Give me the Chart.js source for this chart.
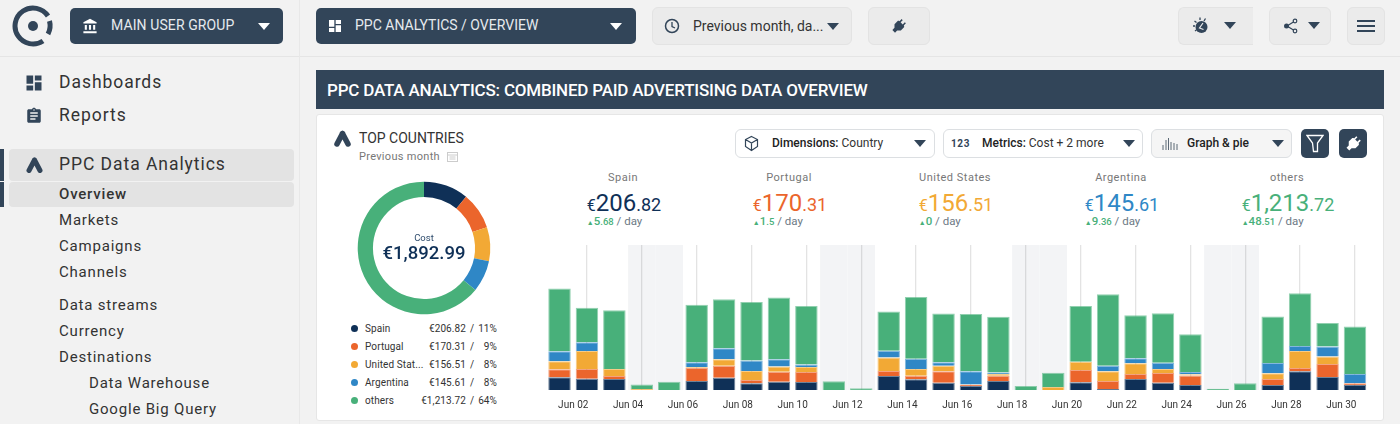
<!DOCTYPE html>
<html>
<head>
<meta charset="utf-8">
<title>PPC Data Analytics</title>
<script src="https://cdn.jsdelivr.net/npm/chart.js@4"></script>
<style>
  * { box-sizing: border-box; }
  html, body { margin: 0; height: 424px; overflow: hidden; }
  body { width: 1400px; background: #f2f2f2; font-family: Roboto, sans-serif; color: #333; position: relative; }
  .abs { position: absolute; white-space: nowrap; }
  .rule-h { position: absolute; left: 0; top: 56px; width: 1400px; height: 1px; background: #e5e5e5; }
  .rule-v { position: absolute; left: 299px; top: 0; width: 1px; height: 424px; background: #e8e8e8; }
  .dark { background: #324559; border-radius: 5px; color: #e6eaee; }
  .light { background: #ebebeb; border: 1px solid #e3e3e3; border-radius: 6px; }
  .btn { position: absolute; height: 36px; top: 8px; }
  .caret { position: absolute; width: 0; height: 0; border-left: 6px solid transparent; border-right: 6px solid transparent; border-top: 7px solid #324559; }
  .caret.white { border-top-color: #fff; }
  .nav { position: absolute; left: 59px; font-size: 15px; letter-spacing: .8px; line-height: 20px; color: #333; white-space: nowrap; }
  .nav.big { font-size: 17.5px; letter-spacing: .95px; }
  .hl { position: absolute; background: #e3e3e3; border-radius: 4px; left: 9px; width: 285px; }
  .mark { position: absolute; left: 0; width: 4px; background: #324559; }
  .card { position: absolute; left: 316px; top: 114px; width: 1068px; height: 307px; background: #fff; border: 1px solid #e6e6e6; border-radius: 3px; }
  .select { position: absolute; top: 129px; height: 29px; background: #fff; border: 1px solid #dcdfe2; border-radius: 6px; }
  .select-text { position: absolute; font-size: 12px; line-height: 29px; top: 129px; white-space: nowrap; color: #333; }
  .select-text b { font-weight: 500; color: #222; }
  .kpi { position: absolute; top: 171px; width: 166px; text-align: center; }
  .kpi .name { font-size: 11px; letter-spacing: .5px; color: #777; line-height: 14px; }
  .kpi .box { display: inline-block; text-align: left; margin-top: 5px; margin-left: 2px; }
  .kpi .val { line-height: 27px; height: 27px; white-space: nowrap; }
  .kpi .cur { font-size: 16px; }
  .kpi .int { font-size: 24px; }
  .kpi .dec { font-size: 18px; }
  .kpi .day { font-size: 11.5px; line-height: 12px; color: #6d7985; white-space: nowrap; margin-top: -2px; }
  .kpi .day span { color: #48b07a; font-weight: 500; }
  .kpi .day small { font-size: 9.5px; }
  .kpi .day i { font-style: normal; font-size: 7px; color: #48b07a; }
  .leg { position: absolute; font-size: 10px; line-height: 12px; white-space: nowrap; color: #333; letter-spacing: .1px; }
  .dot { position: absolute; width: 7px; height: 7px; border-radius: 50%; }
  canvas { position: absolute; }
</style>
</head>
<body>
<div class="rule-h"></div>
<div class="rule-v"></div>

<!-- logo -->
<svg class="abs" style="left:12px;top:5px" width="42" height="42" viewBox="0 0 42 42">
  <path d="M36 11 A18 18 0 1 0 31 36" fill="none" stroke="#324559" stroke-width="5"/>
  <path d="M37.5 16 A18 18 0 0 1 36 29" fill="none" stroke="#324559" stroke-width="5"/>
  <circle cx="21" cy="21" r="5" fill="#324559"/>
</svg>

<!-- top bar -->
<div class="btn dark" style="left:70px;width:213px"></div>
<svg class="abs" style="left:82px;top:17px" width="16" height="18" viewBox="0 0 23 23"><path fill="#fff" d="M4 10v7h3v-7H4zm6 0v7h3v-7h-3zM2 22h19v-3H2v3zm14-12v7h3v-7h-3zm-4.500-9L2 6v2h19V6l-9.500-5z"/></svg>
<div class="abs" style="left:111px;top:16px;font-size:14px;line-height:18px;color:#e6eaee;letter-spacing:.1px">MAIN USER GROUP</div>
<div class="caret white" style="left:258px;top:23px"></div>

<div class="btn dark" style="left:316px;width:320px"></div>
<svg class="abs" style="left:327px;top:18px" width="16" height="16" viewBox="0 0 24 24"><path fill="#fff" d="M3 13h8V3H3v10zm0 8h8v-6H3v6zm10 0h8V11h-8v10zm0-18v6h8V3h-8z"/></svg>
<div class="abs" style="left:355px;top:16px;font-size:14px;line-height:18px;color:#e6eaee">PPC ANALYTICS / OVERVIEW</div>
<div class="caret white" style="left:610px;top:23px"></div>

<div class="btn light" style="left:652px;width:200px;top:7px;height:38px"></div>
<svg class="abs" style="left:664px;top:18px" width="16" height="16" viewBox="0 0 16 16"><circle cx="8" cy="8" r="6.500" fill="none" stroke="#324559" stroke-width="1.500"/><path d="M8 4v4.500l3 1.500" fill="none" stroke="#324559" stroke-width="1.300"/></svg>
<div class="abs" style="left:693px;top:17px;font-size:14px;line-height:18px;color:#333">Previous month, da...</div>
<div class="caret" style="left:827px;top:23px"></div>

<div class="btn light" style="left:868px;width:62px;top:7px;height:38px"></div>
<svg class="abs" style="left:890px;top:17px" width="18" height="18" viewBox="0 0 24 24"><path fill="#324559" transform="rotate(45 12 12)" d="M16 7V3h-2v4h-4V3H8v4C7 7 6 8 6 9v5.500L9.500 18v4h5v-4l3.500-3.500V9c0-1-1-2-2-2z"/></svg>

<div class="btn light" style="left:1178px;width:75px;top:7px;height:38px;border-right:none;border-radius:6px 0 0 6px"></div>
<svg class="abs" style="left:1192px;top:17px" width="18" height="18" viewBox="0 0 18 18"><circle cx="9.500" cy="10" r="6" fill="#324559"/><path d="M1 9h2M2.500 4l2 1.500M8 .5v2.500M13.500 1.500l-1.500 2.500M3 14l2-1.500" stroke="#324559" stroke-width="1.300"/><path d="M11 6L7.500 11l4 1.500" fill="none" stroke="#ebebeb" stroke-width="1.200"/></svg>
<div class="caret" style="left:1224px;top:22px"></div>

<div class="btn light" style="left:1269px;width:62px;top:7px;height:38px"></div>
<svg class="abs" style="left:1283px;top:18px" width="16" height="16" viewBox="0 0 16 16"><path d="M4 8l8-5M4 8l8 5" stroke="#324559" stroke-width="1.200"/><circle cx="3.500" cy="8" r="2.500" fill="#324559"/><circle cx="12" cy="3" r="1.800" fill="#ebebeb" stroke="#324559" stroke-width="1.200"/><circle cx="12" cy="13" r="1.800" fill="#ebebeb" stroke="#324559" stroke-width="1.200"/></svg>
<div class="caret" style="left:1308px;top:22px"></div>

<div class="btn light" style="left:1347px;width:38px;top:7px;height:38px"></div>
<svg class="abs" style="left:1357px;top:19px" width="18" height="14" viewBox="0 0 18 14"><path d="M0 2h18M0 7h18M0 12h18" stroke="#324559" stroke-width="2"/></svg>

<!-- sidebar -->
<div class="hl" style="top:149px;height:32px"></div>
<div class="hl" style="top:182px;height:25px"></div>
<div class="mark" style="top:149px;height:32px"></div>
<div class="mark" style="top:182px;height:25px"></div>
<svg class="abs" style="left:24px;top:73px" width="20" height="20" viewBox="0 0 24 24"><path fill="#324559" d="M3 13h8V3H3v10zm0 8h8v-6H3v6zm10 0h8V11h-8v10zm0-18v6h8V3h-8z"/></svg>
<svg class="abs" style="left:25px;top:107px" width="18" height="18" viewBox="0 0 24 24"><path fill="#324559" d="M19 3h-4.180C14.400 1.840 13.300 1 12 1c-1.300 0-2.400.84-2.820 2H5c-1.100 0-2 .9-2 2v14c0 1.100.9 2 2 2h14c1.100 0 2-.9 2-2V5c0-1.100-.9-2-2-2zm-7 0c.55 0 1 .45 1 1s-.45 1-1 1-1-.45-1-1 .45-1 1-1zm2 14H7v-2h7v2zm3-4H7v-2h10v2zm0-4H7V7h10v2z"/></svg>
<svg class="abs" style="left:26px;top:157px" width="17" height="16" viewBox="0 0 17 16"><path d="M3 13.500L8.500 3M14 13.500L8.500 3" stroke="#324559" stroke-width="5" stroke-linecap="round"/></svg>
<div class="nav big" style="top:72px">Dashboards</div>
<div class="nav big" style="top:105px">Reports</div>
<div class="nav big" style="top:154px">PPC Data Analytics</div>
<div class="nav" style="top:184px;font-weight:500">Overview</div>
<div class="nav" style="top:210px">Markets</div>
<div class="nav" style="top:236px">Campaigns</div>
<div class="nav" style="top:262px">Channels</div>
<div class="nav" style="top:295px">Data streams</div>
<div class="nav" style="top:321px">Currency</div>
<div class="nav" style="top:347px">Destinations</div>
<div class="nav" style="top:373px;left:89px">Data Warehouse</div>
<div class="nav" style="top:399px;left:89px">Google Big Query</div>

<!-- banner -->
<div class="abs" style="left:316px;top:70px;width:1068px;height:39px;background:#324559"></div>
<div class="abs" style="left:327px;top:80px;font-size:17px;line-height:20px;font-weight:500;color:#fff;letter-spacing:-.2px">PPC DATA ANALYTICS: COMBINED PAID ADVERTISING DATA OVERVIEW</div>

<!-- card -->
<div class="card"></div>
<svg class="abs" style="left:333px;top:129px" width="19" height="19" viewBox="0 0 19 19"><path d="M4 15L9.500 4.500M15 15L9.500 4.500" stroke="#324559" stroke-width="5.500" stroke-linecap="round"/></svg>
<div class="abs" style="left:359px;top:130px;font-size:14px;line-height:17px;color:#333">TOP COUNTRIES</div>
<div class="abs" style="left:359px;top:150px;font-size:11px;line-height:13px;color:#777;letter-spacing:.3px">Previous month</div>
<svg class="abs" style="left:447px;top:151px" width="11" height="11" viewBox="0 0 11 11"><rect x=".5" y="1.500" width="10" height="9" fill="none" stroke="#ccc"/><path d="M.5 4h10M2.500 6h6M2.500 8h6" stroke="#ccc"/></svg>

<div class="select" style="left:735px;width:200px"></div>
<svg class="abs" style="left:743px;top:135px" width="17" height="17" viewBox="0 0 17 17"><path d="M8.500 1.500l6 3v7l-6 4-6-4v-7zM2.500 4.500l6 3.500 6-3.500M8.500 8v7.500" fill="none" stroke="#324559" stroke-width="1.200"/></svg>
<div class="select-text" style="left:772px"><b>Dimensions:</b> Country</div>
<div class="caret" style="left:914px;top:140px"></div>

<div class="select" style="left:943px;width:200px"></div>
<div class="select-text" style="left:951px;font-size:10px;font-weight:700;color:#324559;letter-spacing:.6px">123</div>
<div class="select-text" style="left:982px"><b>Metrics:</b> Cost + 2 more</div>
<div class="caret" style="left:1123px;top:140px"></div>

<div class="select" style="left:1151px;width:141px;background:#f5f5f5"></div>
<svg class="abs" style="left:1162px;top:136px" width="16" height="15" viewBox="0 0 16 15"><path d="M1 14V9M4 14V4M6.500 14V2M9 14V6M12 14V7M15 14V8" stroke="#5b6875" stroke-width="1"/></svg>
<div class="select-text" style="left:1187px"><b>Graph &amp; pie</b></div>
<div class="caret" style="left:1272px;top:140px"></div>

<div class="abs dark" style="left:1301px;top:129px;width:28px;height:29px"></div>
<svg class="abs" style="left:1306px;top:134px" width="18" height="19" viewBox="0 0 18 19"><path d="M1 1.500h16L11.500 9v8.500H7.500L6.500 9z" fill="none" stroke="#fff" stroke-width="1.300"/></svg>
<div class="abs dark" style="left:1339px;top:129px;width:28px;height:29px"></div>
<svg class="abs" style="left:1344px;top:134px" width="19" height="19" viewBox="0 0 24 24"><path fill="#fff" transform="rotate(45 12 12)" d="M16 7V3h-2v4h-4V3H8v4C7 7 6 8 6 9v5.500L9.500 18v4h5v-4l3.500-3.500V9c0-1-1-2-2-2z"/></svg>

<div id="kpis"></div>
<div id="legend"></div>

<canvas id="pieChart" width="140" height="140" style="left:354px;top:178px"></canvas>
<div class="abs" style="left:354px;width:140px;top:232px;text-align:center;font-size:9.500px;line-height:11px;color:#2c4a6b">Cost</div>
<div class="abs" style="left:354px;width:140px;top:241px;text-align:center;font-size:18.5px;line-height:24px;font-weight:500;color:#0f3057" id="totalCost"></div>

<canvas id="usageChart" width="840" height="175" style="left:540px;top:240px"></canvas>

<script>
/* ----- dados ----- */
const days = [
  'Jun 01', 'Jun 02', 'Jun 03', 'Jun 04', 'Jun 05', 'Jun 06', 'Jun 07', 'Jun 08', 'Jun 09', 'Jun 10',
  'Jun 11', 'Jun 12', 'Jun 13', 'Jun 14', 'Jun 15', 'Jun 16', 'Jun 17', 'Jun 18', 'Jun 19', 'Jun 20',
  'Jun 21', 'Jun 22', 'Jun 23', 'Jun 24', 'Jun 25', 'Jun 26', 'Jun 27', 'Jun 28', 'Jun 29', 'Jun 30'
];
const weekendDays = ['Jun 04', 'Jun 05', 'Jun 11', 'Jun 12', 'Jun 18', 'Jun 19', 'Jun 25', 'Jun 26'];

const spain = [13.1, 11.7, 11.4, 0, 0, 9.3, 12.8, 6.9, 8.6, 8.3, 0, 0, 14.5, 11.0, 7.6, 4.1, 9.3, 0, 0, 7.9, 1.0, 11.4, 7.6, 5.2, 0, 0, 5.2, 19.3, 13.5, 5.2];
const portugal = [8.3, 10.0, 3.1, 0, 0, 13.8, 12.4, 3.5, 10.4, 10.4, 0, 0, 5.2, 3.8, 11.7, 1.4, 5.5, 0, 0, 12.8, 8.3, 5.2, 10.0, 9.7, 0, 0, 6.2, 3.5, 13.5, 1.7];
const unitedStates = [8.3, 18.6, 7.2, 1.0, 0, 0.7, 6.6, 9.3, 5.2, 5.2, 0, 0, 13.8, 6.9, 5.9, 0.3, 1.7, 0, 3.1, 8.6, 10.0, 11.0, 4.1, 1.4, 0, 0, 5.9, 17.6, 7.6, 0];
const argentina = [10.4, 9.0, 0, 0, 0, 4.8, 11.4, 10.7, 7.6, 2.4, 0, 0, 7.2, 10.7, 3.5, 13.5, 1.7, 0, 0, 0, 5.9, 5.2, 6.6, 2.4, 0, 0, 10.7, 5.2, 10.4, 9.7];
const others = [64.9, 35.9, 60.7, 4.8, 8.6, 59.7, 50.7, 60.7, 63.8, 60.7, 9.0, 1.7, 40.4, 63.8, 50.4, 59.3, 57.6, 4.1, 14.8, 57.6, 73.8, 44.5, 51.1, 39.0, 1.4, 6.9, 48.0, 54.5, 24.2, 49.0];

const countries = ['Spain', 'Portugal', 'United States', 'Argentina', 'others'];
const legendNames = ['Spain', 'Portugal', 'United Stat...', 'Argentina', 'others'];
const totals = [206.82, 170.31, 156.51, 145.61, 1213.72];
const shares = [11, 9, 8, 8, 64];
const perDay = ['5.68', '1.5', '0', '9.36', '48.51'];
const totalCost = '€1,892.99';
const colors = ['#0f3057', '#eb652c', '#f2a935', '#2f87c6', '#48b07a'];
const borderColors = ['rgba(15,48,87,.6)', 'rgba(235,101,44,.6)', 'rgba(242,169,53,.6)', 'rgba(47,135,198,.6)', 'rgba(72,176,122,.6)'];

/* ----- textos ----- */
function formatEuro(v) {
  return v.toLocaleString('en-US', { minimumFractionDigits: 2, maximumFractionDigits: 2 });
}

document.getElementById('totalCost').textContent = totalCost;

const kpis = document.getElementById('kpis');
countries.forEach((name, i) => {
  const parts = formatEuro(totals[i]).split('.');
  const rate = perDay[i].split('.');
  const rateDec = rate[1] ? `<small>.${rate[1]}</small>` : '';
  const div = document.createElement('div');
  div.className = 'kpi';
  div.style.left = (540 + i * 166) + 'px';
  div.innerHTML = `
    <div class="name">${name}</div>
    <div class="box">
      <div class="val" style="color:${colors[i]}"><span class="cur">€</span><span class="int">${parts[0]}</span><span class="dec">.${parts[1]}</span></div>
      <div class="day"><i>▲</i><span>${rate[0]}${rateDec}</span> / day</div>
    </div>`;
  kpis.appendChild(div);
});

const legend = document.getElementById('legend');
legendNames.forEach((name, i) => {
  const top = 323 + i * 18;
  legend.innerHTML += `
    <div class="dot" style="left:351px;top:${top + 2}px;background:${colors[i]}"></div>
    <div class="leg" style="left:365px;top:${top}px">${name}</div>
    <div class="leg" style="left:400px;width:66px;top:${top}px;text-align:right">€${formatEuro(totals[i])}</div>
    <div class="leg" style="left:470px;top:${top}px">/</div>
    <div class="leg" style="left:470px;width:27px;top:${top}px;text-align:right">${shares[i]}%</div>`;
});

/* ----- faixas de fim de semana ----- */
const weekendBands = {
  id: 'weekendBands',
  beforeDraw(chart) {
    const { ctx, chartArea, scales } = chart;
    const half = (scales.x.getPixelForValue(1) - scales.x.getPixelForValue(0)) / 2;
    ctx.save();
    ctx.fillStyle = '#f3f4f6';
    weekendDays.forEach(day => {
      const x = scales.x.getPixelForValue(days.indexOf(day));
      ctx.fillRect(x - half, chartArea.top, half * 2, chartArea.height);
    });
    ctx.restore();
  }
};

/* ----- gráfico de barras ----- */
const seriesValues = [spain, portugal, unitedStates, argentina, others];

new Chart(document.getElementById('usageChart'), {
  type: 'bar',
  data: {
    labels: days,
    datasets: seriesValues.map((data, i) => ({
      label: countries[i],
      data,
      backgroundColor: colors[i],
      borderColor: borderColors[i],
      borderWidth: 1,
      categoryPercentage: 0.82,
      barPercentage: 1
    }))
  },
  options: {
    responsive: false,
    animation: false,
    layout: { padding: { left: 5.8, right: 11.3, top: 5, bottom: 0 } },
    plugins: { legend: { display: false }, tooltip: { enabled: false } },
    scales: {
      x: {
        stacked: true,
        border: { display: false },
        grid: {
          offset: false,
          drawTicks: false,
          lineWidth: 1.3,
          color: c => (c.index % 2 === 1 ? 'rgba(0,0,0,.11)' : 'transparent')
        },
        afterFit(scale) {
          scale.height = 25;
          scale.paddingLeft = 0;
          scale.paddingRight = 0;
        },
        ticks: {
          autoSkip: false,
          maxRotation: 0,
          padding: 9,
          labelOffset: -13.7,
          color: '#333',
          font: { family: 'Roboto', size: 10 },
          callback(value, index) {
            return index % 2 === 1 ? days[index] : '';
          }
        }
      },
      y: { stacked: true, display: false, min: 0, max: 150 }
    }
  },
  plugins: [weekendBands]
});

/* ----- gráfico de rosca ----- */
new Chart(document.getElementById('pieChart'), {
  type: 'doughnut',
  data: {
    labels: countries,
    datasets: [{ data: totals, backgroundColor: colors, borderWidth: 0 }]
  },
  options: {
    responsive: false,
    animation: false,
    cutout: '77%',
    layout: { padding: 3.7 },
    plugins: { legend: { display: false }, tooltip: { enabled: false } }
  }
});
</script>
</body>
</html>
